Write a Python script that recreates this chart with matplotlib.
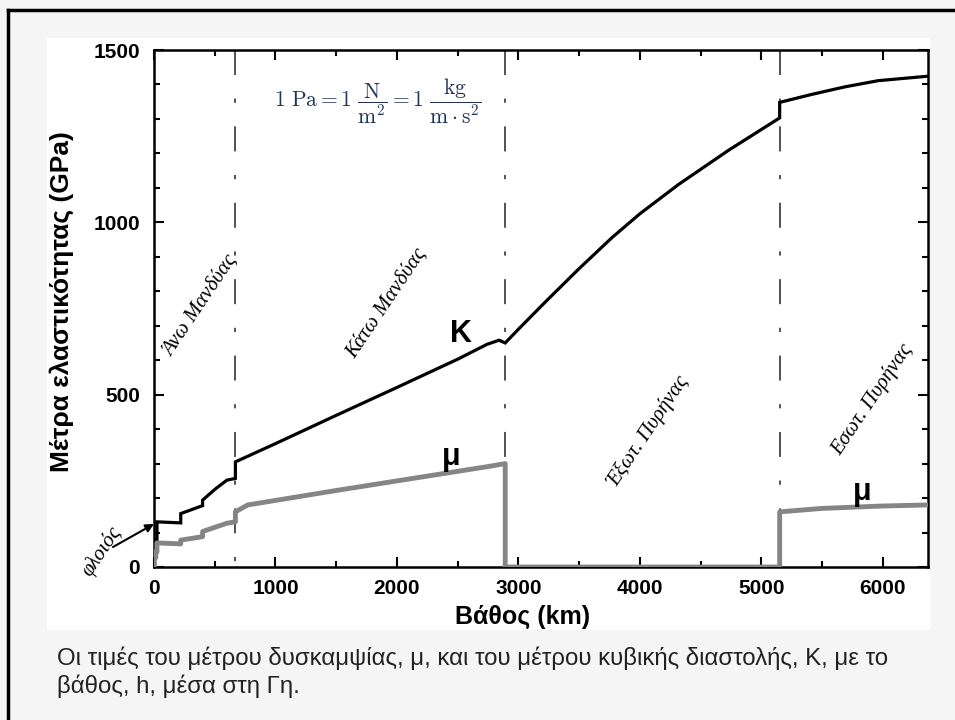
import matplotlib
matplotlib.use('Agg')
import matplotlib.pyplot as plt
from matplotlib.ticker import MultipleLocator
from matplotlib.patches import Rectangle
from matplotlib.lines import Line2D

plt.rcParams['font.family'] = ['Liberation Sans', 'DejaVu Sans']
plt.rcParams['mathtext.fontset'] = 'cm'
plt.rcParams['lines.scale_dashes'] = False

# μέτρο κυβικής διαστολής K (GPa) ως προς το βάθος (km)
depth_k = [0, 15, 15, 24.4, 24.4, 220, 220, 400, 400, 500, 600, 670, 670,
           1000, 1500, 2000, 2500, 2741, 2841, 2891, 2891,
           3000, 3224, 3500, 3771, 4000, 4318, 4729, 5150, 5150,
           5412, 5686, 5961, 6371]
K = [52, 52, 75, 75, 131, 128, 155, 178, 194, 225, 252, 257, 305,
     358, 440, 521, 603, 646, 658, 650, 650,
     690, 770, 866, 956, 1025, 1110, 1209, 1303, 1348,
     1371, 1393, 1411, 1424]

# μέτρο δυσκαμψίας μ (GPa)
depth_mu = [0, 3, 3, 15, 15, 24.4, 24.4, 220, 220, 400, 400, 600, 670, 670,
            771, 1500, 2741, 2891, 2891, 5150, 5150, 5500, 6000, 6371]
mu = [0, 0, 27, 27, 44, 44, 70, 67, 78, 88, 103, 127, 131, 160,
      180, 222, 291, 300, 0, 0, 160, 170, 177, 180]

# όρια στρωμάτων
boundaries = [670, 2891, 5150]

fig = plt.figure(figsize=(9.55, 7.2), dpi=100)
fig.patch.set_facecolor('#f5f5f5')
W, H = 955.0, 720.0

def fx(px):
    return px / W

def fy(py):
    return 1 - py / H

# λευκό φόντο διαφάνειας και πλαίσιο
fig.patches.append(Rectangle((fx(47), fy(630)), fx(930) - fx(47), fy(38) - fy(630),
                             transform=fig.transFigure, facecolor='white', edgecolor='none', zorder=-5))
fig.lines.append(Line2D([fx(8), fx(8)], [fy(10), 0], transform=fig.transFigure, color='black', lw=2.5, zorder=-4))
fig.lines.append(Line2D([fx(8), 1], [fy(10), fy(10)], transform=fig.transFigure, color='black', lw=2.5, zorder=-4))

ax = fig.add_axes([fx(154), fy(567), fx(928) - fx(154), fy(50) - fy(567)])
ax.set_zorder(1)
ax.set_xlim(0, 6371)
ax.set_ylim(0, 1500)

for b in boundaries:
    ax.plot([b, b], [1500, 0], color='#333333', lw=1.2, ls=(0, (18, 17, 3, 17)), zorder=1)

ax.plot(depth_k, K, color='black', lw=2.3, zorder=3, solid_joinstyle='miter')
ax.plot(depth_mu, mu, color='#858585', lw=3.5, zorder=4)

ax.xaxis.set_major_locator(MultipleLocator(1000))
ax.xaxis.set_minor_locator(MultipleLocator(500))
ax.yaxis.set_major_locator(MultipleLocator(500))
ax.yaxis.set_minor_locator(MultipleLocator(100))
ax.tick_params(which='both', direction='in', top=True, right=True, width=1.5)
ax.tick_params(which='major', length=7, labelsize=15)
ax.tick_params(which='minor', length=4)
ax.tick_params(axis='x', pad=9)
ax.tick_params(axis='y', pad=10)
for lab in ax.get_xticklabels() + ax.get_yticklabels():
    lab.set_fontweight('bold')
for s in ax.spines.values():
    s.set_linewidth(1.8)

fig.text(fx(523), fy(617), 'Βάθος (km)', fontsize=18, fontweight='bold', ha='center', va='center')
fig.text(fx(62), fy(302), 'Μέτρα ελαστικότητας (GPa)', fontsize=19, fontweight='bold',
         ha='center', va='center', rotation=90)

# ονόματα στρωμάτων
serif = dict(family=['Liberation Serif', 'DejaVu Serif'], style='italic', fontsize=15,
             ha='center', va='center', rotation=56, rotation_mode='anchor', zorder=5)
fig.text(fx(200), fy(306), 'Άνω Μανδύας', **serif)
fig.text(fx(386), fy(303), 'Κάτω Μανδύας', **serif)
fig.text(fx(648), fy(432), 'Έξωτ. Πυρήνας', **serif)
fig.text(fx(872), fy(400), 'Εσωτ. Πυρήνας', **serif)
fig.text(fx(102), fy(551), 'φλοιός', **serif)

ax.annotate('', xy=(0, 125), xycoords='data', xytext=(fx(113), fy(547)),
            textcoords='figure fraction', annotation_clip=False,
            arrowprops=dict(arrowstyle='-|>', color='black', lw=1.5, mutation_scale=12,
                            shrinkA=0, shrinkB=0))

fig.text(fx(461), fy(334), 'K', fontsize=22, fontweight='bold', ha='center', va='center', zorder=5)
fig.text(fx(451), fy(457), 'μ', fontsize=22, fontweight='bold', ha='center', va='center', zorder=5)
fig.text(fx(862), fy(492), 'μ', fontsize=22, fontweight='bold', ha='center', va='center', zorder=5)

fig.text(fx(378), fy(101),
         r'$1\ \mathrm{Pa} = 1\ \dfrac{\mathrm{N}}{\mathrm{m}^2} = 1\ \dfrac{\mathrm{kg}}{\mathrm{m}\cdot\mathrm{s}^2}$',
         fontsize=15.5, color='#1f3358', ha='center', va='center', zorder=5)

fig.text(fx(57), fy(665),
         'Οι τιμές του μέτρου δυσκαμψίας, μ, και του μέτρου κυβικής διαστολής, Κ, με το',
         fontsize=17.3, color='#222222', ha='left', va='baseline')
fig.text(fx(57), fy(693), 'βάθος, h, μέσα στη Γη.',
         fontsize=17.3, color='#222222', ha='left', va='baseline')

fig.savefig('out.png', dpi=100, facecolor=fig.get_facecolor())
